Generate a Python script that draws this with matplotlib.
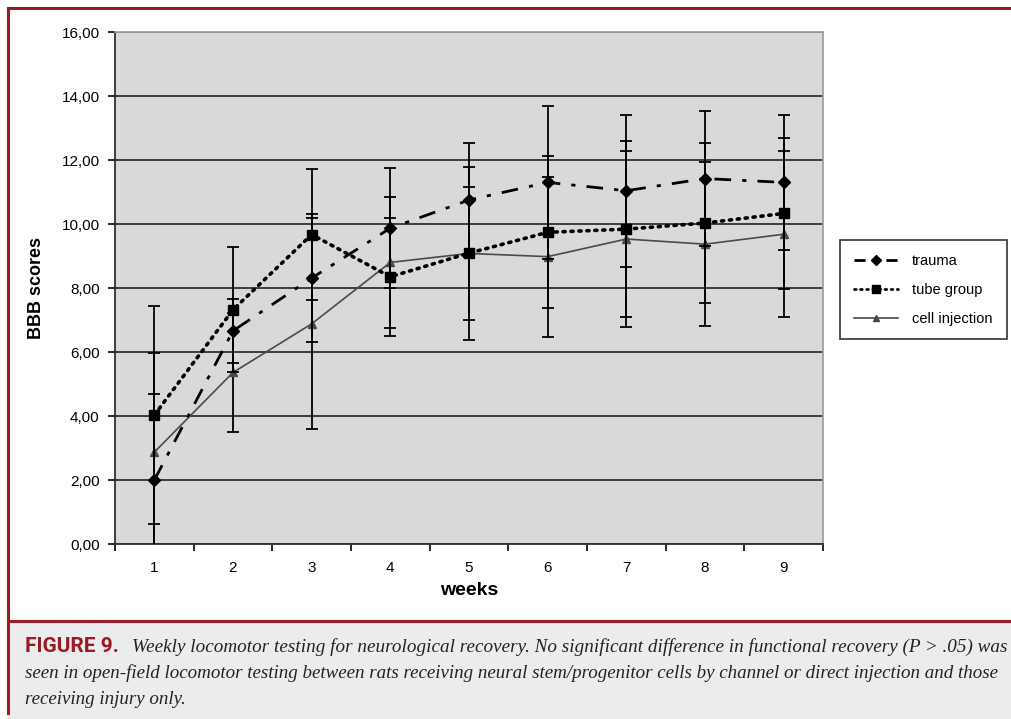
import matplotlib
matplotlib.use('Agg')
import matplotlib.pyplot as plt
from matplotlib.lines import Line2D
from matplotlib.patches import Rectangle
from matplotlib.ticker import FuncFormatter, FixedLocator

# Data
weeks = [1, 2, 3, 4, 5, 6, 7, 8, 9]
trauma = [2.00, 6.66, 8.31, 9.87, 10.75, 11.30, 11.04, 11.42, 11.30]
trauma_err = [2.68, 1.00, 2.00, 1.88, 1.77, 2.40, 2.38, 2.12, 2.12]
tube = [4.03, 7.32, 9.67, 8.35, 9.09, 9.74, 9.84, 10.03, 10.33]
tube_err = [3.42, 1.95, 2.06, 1.85, 2.70, 2.37, 2.76, 2.50, 2.36]
cell = [2.87, 5.36, 6.88, 8.80, 9.08, 8.98, 9.53, 9.37, 9.68]
cell_err = [3.10, 1.85, 3.30, 2.05, 2.09, 2.50, 2.76, 2.56, 2.60]

caption_lines = [
    'Weekly locomotor testing for neurological recovery. No significant difference in functional recovery (P > .05) was',
    'seen in open-field locomotor testing between rats receiving neural stem/progenitor cells by channel or direct injection and those',
    'receiving injury only.',
]

W, H = 1012, 719
RED = '#9b1b24'

fig = plt.figure(figsize=(W / 100, H / 100), dpi=100)
plt.rcParams['font.family'] = ['Liberation Sans', 'DejaVu Sans']


def px(x0, y0, x1, y1):
    """ Convert a pixel box (top-left origin) to figure fractions. """
    return [x0 / W, 1 - y1 / H, (x1 - x0) / W, (y1 - y0) / H]


# frame and caption background
fig.add_artist(Rectangle((8 / W, 0), 1 - 8 / W, 1 - 621 / H,
                         transform=fig.transFigure, facecolor='#ebecee',
                         edgecolor='none', zorder=0))
fig.add_artist(Line2D([8 / W, 1], [1 - 8 / H, 1 - 8 / H], color=RED, lw=2.2))
fig.add_artist(Line2D([8 / W, 8 / W], [1 - 8 / H, 0.008], color=RED, lw=2.2))
fig.add_artist(Line2D([8 / W, 1], [1 - 621 / H, 1 - 621 / H], color=RED, lw=2.2))

ax = fig.add_axes(px(115, 32, 823, 544))
ax.set_facecolor('#d9d9d9')

ekw = dict(ecolor='black', elinewidth=1.3, capsize=4, capthick=1.3)
cell_style = dict(color='#4a4a4a', lw=1.2, marker='^', ms=6,
                  mfc='#4a4a4a', mec='#4a4a4a')
tube_style = dict(color='black', lw=2.6, linestyle=(0, (0.6, 1.6)),
                  dash_capstyle='round', marker='s', ms=7.5)
trauma_style = dict(color='black', lw=2.0, linestyle=(0, (6, 4, 1.5, 4)),
                    marker='D', ms=6)

ax.errorbar(weeks, cell, yerr=cell_err, zorder=3, **cell_style, **ekw)
ax.errorbar(weeks, tube, yerr=tube_err, zorder=4, **tube_style, **ekw)
ax.errorbar(weeks, trauma, yerr=trauma_err, zorder=5, **trauma_style, **ekw)

ax.set_xlim(0.5, 9.5)
ax.set_ylim(0, 16)
ax.set_yticks(range(0, 17, 2))
ax.yaxis.set_major_formatter(FuncFormatter(lambda v, p: ('%.2f' % v).replace('.', ',')))
ax.set_xticks(weeks)
ax.xaxis.set_minor_locator(FixedLocator([w + 0.5 for w in [0] + weeks]))
ax.tick_params(axis='x', which='major', length=0, labelsize=11, pad=12)
ax.tick_params(axis='x', which='minor', length=5, width=1.2, direction='out')
ax.tick_params(axis='y', length=5, width=1.2, direction='out', labelsize=11, pad=6)
ax.grid(axis='y', color='#303030', lw=1.3)
ax.set_axisbelow(True)
for side in ('left', 'bottom'):
    ax.spines[side].set_color('#303030')
    ax.spines[side].set_linewidth(1.3)
for side in ('top', 'right'):
    ax.spines[side].set_color('#a0a0a0')
    ax.spines[side].set_linewidth(1.3)

ax.set_xlabel('weeks', fontsize=14, fontweight='bold', labelpad=5)
ax.set_ylabel('BBB scores', fontsize=13, fontweight='bold', labelpad=12)

handles = [Line2D([], [], **dict(trauma_style, ms=5, linestyle=(0, (4, 3, 1.5, 3)))),
           Line2D([], [], **dict(tube_style, ms=6, lw=2.0)),
           Line2D([], [], **dict(cell_style, ms=5))]
leg = fig.legend(handles, ['trauma', 'tube group', 'cell injection'],
                 loc='upper left', bbox_to_anchor=(840 / W, 1 - 240 / H),
                 fontsize=10.5, frameon=True, fancybox=False,
                 edgecolor='black', borderpad=0.95, labelspacing=1.02,
                 handlelength=3.0, handletextpad=1.0, borderaxespad=0)
leg.get_frame().set_linewidth(1.2)

# caption
fig.text(25 / W, 1 - 647 / H, 'FIGURE 9.', color=RED, fontsize=15,
         fontweight='bold', va='center', family=['Roboto', 'DejaVu Sans'])
serif = ['Liberation Serif', 'DejaVu Serif']
fig.text(132 / W, 1 - 647 / H, caption_lines[0], fontsize=13.8, style='italic',
         va='center', color='#222222', family=serif)
fig.text(25 / W, 1 - 673 / H, caption_lines[1], fontsize=13.7, style='italic',
         va='center', color='#222222', family=serif)
fig.text(25 / W, 1 - 699 / H, caption_lines[2], fontsize=13.7, style='italic',
         va='center', color='#222222', family=serif)

fig.savefig('out.png', dpi=100)
